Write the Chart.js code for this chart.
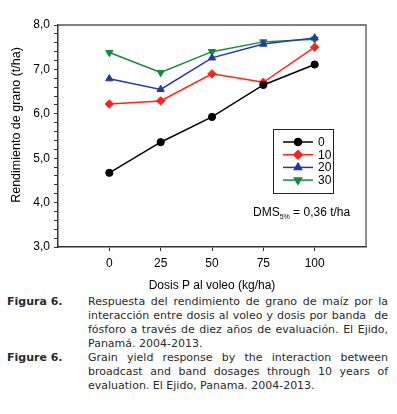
<!DOCTYPE html>
<html>
<head>
<meta charset="utf-8">
<script src="https://cdn.jsdelivr.net/npm/chart.js@4/dist/chart.umd.min.js"></script>
<style>
  html, body { margin: 0; padding: 0; background: #fff; }
  body { width: 397px; height: 414px; position: relative; overflow: hidden; }
  #c { position: absolute; left: 0; top: 0; }
  .cap { position: absolute; left: 0; width: 397px; font-family: "DejaVu Sans", Verdana, sans-serif; font-size: 11px; color: #2a2a2a; line-height: 14px; }
  .row { position: absolute; left: 0; width: 397px; }
  .lab { position: absolute; left: 7px; font-weight: bold; }
  .ln { position: absolute; left: 88px; width: 300px; white-space: nowrap; }
  .j { text-align: justify; text-align-last: justify; white-space: normal; }
</style>
</head>
<body>
<canvas id="c" width="397" height="295"></canvas>
<div class="cap" style="top:295px">
  <div class="row" style="top:0"><span class="lab">Figura 6.</span></div>
  <div class="ln j" style="top:0">Respuesta del rendimiento de grano de maíz por la</div>
  <div class="ln j" style="top:14px">interacción entre dosis al voleo y dosis por banda&nbsp; de</div>
  <div class="ln j" style="top:28px">fósforo a través de diez años de evaluación. El Ejido,</div>
  <div class="ln" style="top:42px">Panamá. 2004-2013.</div>
  <div class="row" style="top:56px"><span class="lab">Figure 6.</span></div>
  <div class="ln j" style="top:56px">Grain yield response by the interaction between</div>
  <div class="ln j" style="top:70px">broadcast and band dosages through 10 years of</div>
  <div class="ln" style="top:84px">evaluation. El Ejido, Panama. 2004-2013.</div>
</div>
<script>
const categories = [0, 25, 50, 75, 100];
const seriesLabels = ['0', '10', '20', '30'];
const s0  = [4.67, 5.36, 5.93, 6.65, 7.11];
const s10 = [6.22, 6.29, 6.90, 6.71, 7.50];
const s20 = [6.79, 6.55, 7.26, 7.57, 7.71];
const s30 = [7.38, 6.93, 7.40, 7.62, 7.68];
const yMajorTicks = [3, 4, 5, 6, 7, 8];
const yMinorStep = 0.2;
const xTitle = 'Dosis P al voleo (kg/ha)';
const yTitle = 'Rendimiento de grano (t/ha)';
const dmsLabel = ['DMS', '5%', ' = 0,36 t/ha'];

const FONT = '"Liberation Sans", Arial, sans-serif';
const colors = ['#000000', '#ff2418', '#2139a6', '#15893a'];
const styles = [
  { pointStyle: 'circle', radius: 3.6, rotation: 0 },
  { pointStyle: 'rectRot', radius: 4.2, rotation: 0 },
  { pointStyle: 'triangle', radius: 4.2, rotation: 0 },
  { pointStyle: 'triangle', radius: 4.2, rotation: 180 }
];
const series = [s0, s10, s20, s30];

const datasets = series.map((s, i) => ({
  label: seriesLabels[i],
  data: categories.map((c, k) => ({ x: c, y: s[k] })),
  borderColor: colors[i],
  backgroundColor: colors[i],
  borderWidth: 1.5,
  pointStyle: styles[i].pointStyle,
  pointRadius: styles[i].radius,
  pointRotation: styles[i].rotation,
  pointBorderWidth: 1,
  tension: 0
}));

const yTickValues = [];
for (let k = 0; k <= Math.round((yMajorTicks[yMajorTicks.length - 1] - yMajorTicks[0]) / yMinorStep); k++) {
  yTickValues.push(Math.round((yMajorTicks[0] + k * yMinorStep) * 10) / 10);
}

const framePlugin = {
  id: 'frame',
  beforeDatasetsDraw(chart) {
    const { ctx, chartArea: a } = chart;
    ctx.save();
    ctx.strokeStyle = '#555';
    ctx.lineWidth = 1.3;
    ctx.beginPath();
    ctx.moveTo(a.left, a.top);
    ctx.lineTo(a.right, a.top);
    ctx.lineTo(a.right, a.bottom);
    ctx.stroke();
    ctx.restore();
  },
  afterDraw(chart) {
    const { ctx } = chart;
    ctx.save();
    // y axis title
    ctx.translate(17, 125);
    ctx.rotate(-Math.PI / 2);
    ctx.fillStyle = '#000';
    ctx.font = '12.5px ' + FONT;
    ctx.textAlign = 'center';
    ctx.textBaseline = 'middle';
    ctx.fillText(yTitle, 0, 0);
    ctx.restore();

    ctx.save();
    // legend box
    const bx = 273, by = 129, bw = 60, bh = 64;
    ctx.strokeStyle = '#222';
    ctx.lineWidth = 1;
    ctx.strokeRect(bx + 0.5, by + 0.5, bw, bh);
    chart.data.datasets.forEach((ds, i) => {
      const y = by + 13 + i * 12.7;
      ctx.strokeStyle = ds.borderColor;
      ctx.lineWidth = 1.5;
      ctx.beginPath();
      ctx.moveTo(bx + 10, y);
      ctx.lineTo(bx + 40, y);
      ctx.stroke();
      ctx.fillStyle = ds.backgroundColor;
      Chart.helpers.drawPoint(ctx, {
        pointStyle: ds.pointStyle, radius: ds.pointRadius, rotation: ds.pointRotation, borderWidth: 1
      }, bx + 25, y);
      ctx.fillStyle = '#000';
      ctx.font = '12px ' + FONT;
      ctx.textBaseline = 'middle';
      ctx.textAlign = 'left';
      ctx.fillText(ds.label, bx + 45, y + 0.5);
    });
    // DMS annotation
    let x = 253;
    const y = 213;
    ctx.fillStyle = '#000';
    ctx.textBaseline = 'middle';
    ctx.font = '12px ' + FONT;
    ctx.fillText(dmsLabel[0], x, y);
    x += ctx.measureText(dmsLabel[0]).width;
    ctx.font = '7px ' + FONT;
    ctx.fillText(dmsLabel[1], x, y + 4);
    x += ctx.measureText(dmsLabel[1]).width;
    ctx.font = '12px ' + FONT;
    ctx.fillText(dmsLabel[2], x, y);
    ctx.restore();
  }
};

new Chart(document.getElementById('c'), {
  type: 'line',
  data: { datasets },
  plugins: [framePlugin],
  options: {
    responsive: false,
    animation: false,
    devicePixelRatio: 1,
    layout: { padding: { top: 25, right: 31, left: 0, bottom: 0 } },
    plugins: { legend: { display: false }, tooltip: { enabled: false } },
    scales: {
      x: {
        type: 'linear',
        min: -25,
        max: 125,
        afterBuildTicks: s => { s.ticks = categories.map(v => ({ value: v })); },
        afterFit: s => { s.height = 48; },
        ticks: { font: { family: FONT, size: 12 }, color: '#000', padding: 5, autoSkip: false, maxRotation: 0 },
        grid: { display: true, drawOnChartArea: false, drawTicks: true, tickLength: 4, color: '#333', lineWidth: 1 },
        border: { display: true, color: '#333', width: 1.5 },
        title: { display: true, text: xTitle, font: { family: FONT, size: 12 }, color: '#000', padding: { top: 0, bottom: 2 } }
      },
      y: {
        type: 'linear',
        min: 3,
        max: 8,
        afterBuildTicks: s => { s.ticks = yTickValues.map(v => ({ value: v })); },
        afterFit: s => { s.width = 58; },
        ticks: {
          autoSkip: false,
          font: { family: FONT, size: 12 },
          color: '#000',
          padding: 4,
          callback: v => (Math.abs(v - Math.round(v)) < 1e-6 ? v.toFixed(1).replace('.', ',') : '')
        },
        grid: { display: true, drawOnChartArea: false, drawTicks: true, tickLength: 4, color: '#333', lineWidth: 1 },
        border: { display: true, color: '#333', width: 1.5 },
        title: { display: false }
      }
    }
  }
});
</script>
</body>
</html>
